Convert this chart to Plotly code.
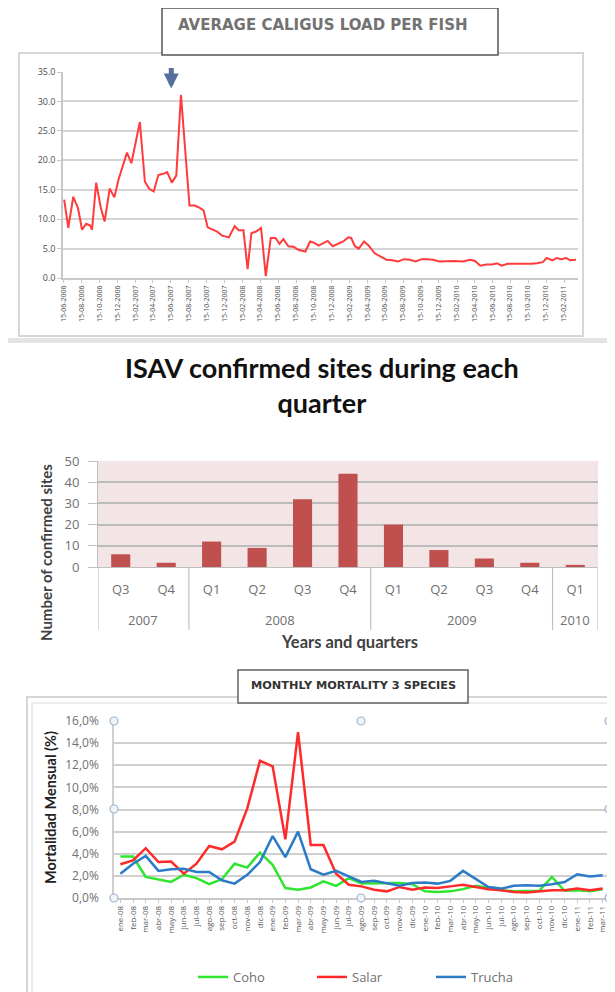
import plotly.graph_objects as go

W, H = 615, 992
OFF = 8  # page body margin of the html page
def fx(p): return (p - OFF) / W
def fy(p): return 1 - (p - OFF) / H

# ---------------- DATA ----------------
caligus_dates = [
    "2006-06-17", "2006-07-01", "2006-07-18", "2006-08-03", "2006-08-17", "2006-08-31",
    "2006-09-14", "2006-09-20", "2006-10-04", "2006-10-20", "2006-11-02", "2006-11-19",
    "2006-12-05", "2006-12-19", "2007-01-17", "2007-02-01", "2007-03-02", "2007-03-19",
    "2007-04-02", "2007-04-18", "2007-05-04", "2007-05-21", "2007-06-03", "2007-06-19",
    "2007-07-04", "2007-07-20", "2007-08-18", "2007-09-05", "2007-09-22", "2007-10-05",
    "2007-10-19", "2007-11-04", "2007-11-20", "2007-12-07", "2007-12-30", "2008-01-19",
    "2008-02-02", "2008-02-18", "2008-03-03", "2008-03-16", "2008-04-01", "2008-04-18",
    "2008-05-04", "2008-05-21", "2008-06-06", "2008-06-20", "2008-07-03", "2008-07-20",
    "2008-08-07", "2008-08-23", "2008-09-16", "2008-10-02", "2008-10-15", "2008-10-31",
    "2008-11-17", "2008-12-01", "2008-12-18", "2009-01-06", "2009-01-23", "2009-02-09",
    "2009-02-19", "2009-03-04", "2009-03-17", "2009-04-04", "2009-04-20", "2009-05-10",
    "2009-05-30", "2009-06-19", "2009-07-09", "2009-07-29", "2009-08-18", "2009-09-07",
    "2009-09-27", "2009-10-17", "2009-11-06", "2009-11-26", "2009-12-16", "2010-01-11",
    "2010-02-07", "2010-03-06", "2010-04-01", "2010-04-17", "2010-05-05", "2010-05-25",
    "2010-06-14", "2010-07-01", "2010-07-17", "2010-08-06", "2010-08-26", "2010-09-15",
    "2010-10-05", "2010-10-25", "2010-11-14", "2010-12-04", "2010-12-17", "2011-01-06",
    "2011-01-20", "2011-02-05", "2011-02-22", "2011-03-07", "2011-03-27",
]
caligus_values = [
    13.3, 8.5, 13.8, 11.9, 8.2, 9.2,
    8.9, 8.2, 16.2, 11.9, 9.6, 15.2,
    13.7, 16.7, 21.3, 19.5, 26.5, 16.4,
    15.2, 14.7, 17.5, 17.7, 18.0, 16.2,
    17.4, 31.1, 12.3, 12.3, 11.9, 11.5,
    8.6, 8.2, 7.9, 7.2, 6.9, 8.8,
    8.1, 8.1, 1.5, 7.6, 7.9, 8.5,
    0.3, 6.8, 6.8, 5.8, 6.6, 5.4,
    5.3, 4.8, 4.5, 6.2, 6.0, 5.5,
    5.9, 6.3, 5.4, 5.8, 6.2, 6.9,
    6.8, 5.4, 5.0, 6.2, 5.5, 4.2,
    3.7, 3.1, 3.0, 2.8, 3.2, 3.1,
    2.8, 3.2, 3.2, 3.1, 2.8, 2.9,
    2.9, 2.8, 3.1, 2.9, 2.1, 2.3,
    2.3, 2.5, 2.1, 2.4, 2.4, 2.3,
    2.4, 2.4, 2.5, 2.7, 3.4, 3.0,
    3.4, 3.2, 3.4, 3.0, 3.1,
]

isav_years = ["2007", "2007", "2008", "2008", "2008", "2008",
              "2009", "2009", "2009", "2009", "2010"]
isav_quarters = ["Q3", "Q4", "Q1", "Q2", "Q3", "Q4", "Q1", "Q2", "Q3", "Q4", "Q1"]
isav_sites = [6, 2, 12, 9, 32, 44, 20, 8, 4, 2, 1]

months = [
    "ene-08", "feb-08", "mar-08", "abr-08", "may-08", "jun-08", "jul-08", "ago-08",
    "sep-08", "oct-08", "nov-08", "dic-08", "ene-09", "feb-09", "mar-09", "abr-09",
    "may-09", "jun-09", "jul-09", "ago-09", "sep-09", "oct-09", "nov-09", "dic-09",
    "ene-10", "feb-10", "mar-10", "abr-10", "may-10", "jun-10", "jul-10", "ago-10",
    "sep-10", "oct-10", "nov-10", "dic-10", "ene-11", "feb-11", "mar-11",
]
coho = [
    3.75, 3.75, 1.9, 1.7, 1.45, 2.1, 1.8, 1.25,
    1.7, 3.1, 2.75, 4.1, 3.0, 0.9, 0.75, 0.95,
    1.5, 1.1, 1.8, 1.3, 1.3, 1.3, 1.35, 1.25,
    0.6, 0.55, 0.6, 0.8, 1.1, 0.9, 0.7, 0.6,
    0.6, 0.65, 1.9, 0.65, 0.7, 0.6, 0.8,
]
salar = [
    3.05, 3.4, 4.5, 3.25, 3.3, 2.2, 3.1, 4.7,
    4.4, 5.1, 8.1, 12.4, 11.9, 5.3, 15.0, 4.8,
    4.8, 2.2, 1.2, 1.05, 0.75, 0.6, 1.0, 0.75,
    0.95, 0.9, 1.05, 1.2, 1.0, 0.8, 0.7, 0.55,
    0.5, 0.6, 0.7, 0.7, 0.85, 0.7, 0.85,
]
trucha = [
    2.2, 3.1, 3.8, 2.45, 2.6, 2.65, 2.35, 2.35,
    1.6, 1.3, 2.1, 3.25, 5.6, 3.7, 6.0, 2.6,
    2.1, 2.45, 1.95, 1.45, 1.55, 1.35, 1.1, 1.35,
    1.4, 1.3, 1.55, 2.45, 1.7, 1.0, 0.85, 1.1,
    1.15, 1.1, 1.25, 1.45, 2.15, 1.95, 2.05,
]
mort_ticks = [0, 2, 4, 6, 8, 10, 12, 14, 16]
mort_ticktext = ["0,0%", "2,0%", "4,0%", "6,0%", "8,0%", "10,0%", "12,0%", "14,0%", "16,0%"]

# ---------------- FIGURE ----------------
fig = go.Figure()

fig.add_trace(go.Scatter(
    x=caligus_dates, y=caligus_values, mode="lines",
    line=dict(color="#ff3b3b", width=2), showlegend=False,
    xaxis="x", yaxis="y"))

isav_cats = [q + " " + y for q, y in zip(isav_quarters, isav_years)]
fig.add_trace(go.Bar(
    x=isav_cats, y=isav_sites,
    marker=dict(color="#c0504d"), showlegend=False,
    xaxis="x2", yaxis="y2"))

for name, vals, col in [("Coho", coho, "#2ee62e"),
                        ("Salar", salar, "#ff2a2a"),
                        ("Trucha", trucha, "#2b7bc6")]:
    fig.add_trace(go.Scatter(
        x=months, y=vals, mode="lines", name=name,
        line=dict(color=col, width=2.5),
        xaxis="x3", yaxis="y3"))

fig.update_layout(
    template="none",
    width=W, height=H, autosize=False,
    margin=dict(l=0, r=0, t=0, b=0, pad=0),
    paper_bgcolor="white",
    plot_bgcolor="rgba(0,0,0,0)",
    font=dict(family="Open Sans, Liberation Sans, sans-serif", color="#666666"),
    bargap=0.58,
    # top chart
    xaxis=dict(
        domain=[fx(63), fx(578)], anchor="y", type="date", automargin=False,
        range=["2006-06-13", "2011-04-03"],
        tick0="2006-06-15", dtick="M2", tickformat="%d-%m-%Y",
        tickangle=-90, tickfont=dict(size=7, color="#4d4d4d"),
        showgrid=False, showline=True, linecolor="#c8c8c8", linewidth=1.5,
        ticks="outside", ticklen=3, tickcolor="#c8c8c8", zeroline=False),
    yaxis=dict(
        domain=[fy(278), fy(72)], anchor="x", range=[0, 35], dtick=5, automargin=False,
        tickformat=".1f", tickfont=dict(size=9, color="#4d4d4d"),
        showgrid=True, gridcolor="#d4d4d4", gridwidth=1.5,
        showline=True, linecolor="#c8c8c8", linewidth=1.5,
        ticks="outside", ticklen=4, tickcolor="#c8c8c8", zeroline=False),
    # middle chart
    xaxis2=dict(
        domain=[fx(98), fx(598)], anchor="y2", type="category", automargin=False,
        categoryorder="array", categoryarray=isav_cats,
        tickvals=isav_cats, ticktext=isav_quarters, ticklabelstandoff=10,
        range=[-0.5, len(isav_cats) - 0.5],
        tickfont=dict(size=13, color="#707070"),
        showline=True, linecolor="#bfbfbf", ticks="",
        showgrid=False, zeroline=False),
    yaxis2=dict(
        domain=[fy(567), fy(461)], anchor="x2", range=[0, 50], dtick=10, automargin=False,
        tickfont=dict(size=13, color="#707070"),
        showgrid=True, gridcolor="#bcbcbc", gridwidth=1.5,
        showline=True, linecolor="#bfbfbf",
        ticks="outside", ticklen=9, tickcolor="#bfbfbf", ticklabelstandoff=6,
        zeroline=False),
    # bottom chart
    xaxis3=dict(
        domain=[fx(114), fx(609)], anchor="y3", type="category", automargin=False,
        tickangle=-90, tickfont=dict(size=8, color="#555"),
        showgrid=False, showline=True, linecolor="#c8c8c8", linewidth=1.5,
        ticks="outside", ticklen=3, tickcolor="#c8c8c8", zeroline=False,
        range=[-0.5, len(months) - 0.5]),
    yaxis3=dict(
        domain=[fy(898), fy(721)], anchor="x3", range=[0, 16], automargin=False,
        tickvals=mort_ticks, ticktext=mort_ticktext,
        tickfont=dict(size=12, color="#707070"), ticks="", ticklabelstandoff=11,
        showgrid=True, gridcolor="#cfcfcf", gridwidth=2,
        showline=True, linecolor="#cfcfcf", linewidth=1.5, mirror=True,
        zeroline=False),
    legend=dict(
        orientation="h", x=fx(193), y=fy(977), xanchor="left", yanchor="middle",
        entrywidth=74, entrywidthmode="pixels", itemwidth=30,
        font=dict(size=13, color="#707070"), bgcolor="rgba(0,0,0,0)"),
)

shapes = [
    # top chart frame
    dict(type="rect", xref="paper", yref="paper",
         x0=fx(19), x1=fx(583), y0=fy(336), y1=fy(53),
         line=dict(color="#d6d6d6", width=2), fillcolor="rgba(0,0,0,0)", layer="below"),
    # top chart title box
    dict(type="rect", xref="paper", yref="paper",
         x0=fx(162), x1=fx(498), y0=fy(55), y1=fy(8),
         line=dict(color="#555555", width=1.5), fillcolor="white"),
    # separator band
    dict(type="rect", xref="paper", yref="paper",
         x0=fx(0), x1=fx(620), y0=fy(343), y1=fy(338),
         line=dict(width=0), fillcolor="#e4e4e4"),
    # pink plot background of bar chart
    dict(type="rect", xref="x2 domain", yref="y2 domain",
         x0=0, x1=1, y0=0, y1=1, line=dict(width=0),
         fillcolor="#f3e5e5", layer="below"),
    # bottom chart frame
    dict(type="rect", xref="paper", yref="paper",
         x0=fx(27), x1=fx(625), y0=fy(1005), y1=fy(697),
         line=dict(color="#d6d6d6", width=2), fillcolor="rgba(0,0,0,0)", layer="below"),
    dict(type="rect", xref="paper", yref="paper",
         x0=fx(32), x1=fx(625), y0=fy(1005), y1=fy(703),
         line=dict(color="#e6e6e6", width=1.5), fillcolor="rgba(0,0,0,0)", layer="below"),
    # bottom chart title box
    dict(type="rect", xref="paper", yref="paper",
         x0=fx(238), x1=fx(468), y0=fy(703), y1=fy(670),
         line=dict(color="#606060", width=1.5), fillcolor="white"),
]
# group dividers of the bar chart category axis (derived from the year list)
bounds = [-0.5] + [i - 0.5 for i in range(1, len(isav_years))
                   if isav_years[i] != isav_years[i - 1]] + [len(isav_years) - 0.5]
for b in bounds:
    shapes.append(dict(type="line", xref="x2", yref="paper", x0=b, x1=b,
                       y0=fy(630), y1=fy(567), line=dict(color="#bfbfbf", width=1.2)))
for hx, hy in [(114, 721), (361, 721), (609, 721), (114, 809), (609, 809),
               (114, 898), (361, 898), (609, 898)]:
    shapes.append(dict(
        type="circle", xref="paper", yref="paper",
        xsizemode="pixel", ysizemode="pixel",
        xanchor=fx(hx), yanchor=fy(hy), x0=-4, x1=4, y0=-4, y1=4,
        line=dict(color="#9fb6cc", width=1.2), fillcolor="#eef4fa"))
fig.update_layout(shapes=shapes)

def ann(text, x, y, size, color, family, angle=0):
    return dict(text=text, xref="paper", yref="paper", x=fx(x), y=fy(y),
                xanchor="center", yanchor="middle", showarrow=False,
                textangle=angle, font=dict(size=size, color=color, family=family))

annotations = [
    ann("<b>AVERAGE CALIGUS LOAD PER FISH</b>", 323, 25, 15, "#727272", "DejaVu Sans, sans-serif"),
    dict(x="2007-06-17", y=32.2, xref="x", yref="y", text="", showarrow=True,
         ax=0, ay=-22, arrowhead=2, arrowsize=0.6, arrowwidth=5, arrowcolor="#56709e"),
    ann("<b>ISAV confirmed sites during each<br>quarter</b>", 322, 385, 27, "#111111", "Lato, sans-serif"),
    ann("<b>Number of confirmed sites</b>", 46, 553, 15, "#404040", "Lato, sans-serif", -90),
    ann("<b>Years and quarters</b>", 349, 642, 16.5, "#404040", "Lato, sans-serif"),
    ann("<b>MONTHLY MORTALITY 3 SPECIES</b>", 353, 685, 11.3, "#333333", "DejaVu Sans, sans-serif"),
    ann("<b>Mortalidad Mensual (%)</b>", 50, 808, 14.5, "#222222", "Lato, sans-serif", -90),
]
# year group labels under the quarters (positions from the year list)
seen = []
for yv in isav_years:
    if yv not in seen:
        seen.append(yv)
for yv in seen:
    idx = [i for i, v in enumerate(isav_years) if v == yv]
    annotations.append(dict(
        text=yv, xref="x2", yref="paper", x=sum(idx) / len(idx), y=fy(620),
        xanchor="center", yanchor="middle", showarrow=False,
        font=dict(size=13, color="#707070", family="Open Sans, sans-serif")))
fig.update_layout(annotations=annotations)

fig.write_html("out.html")
